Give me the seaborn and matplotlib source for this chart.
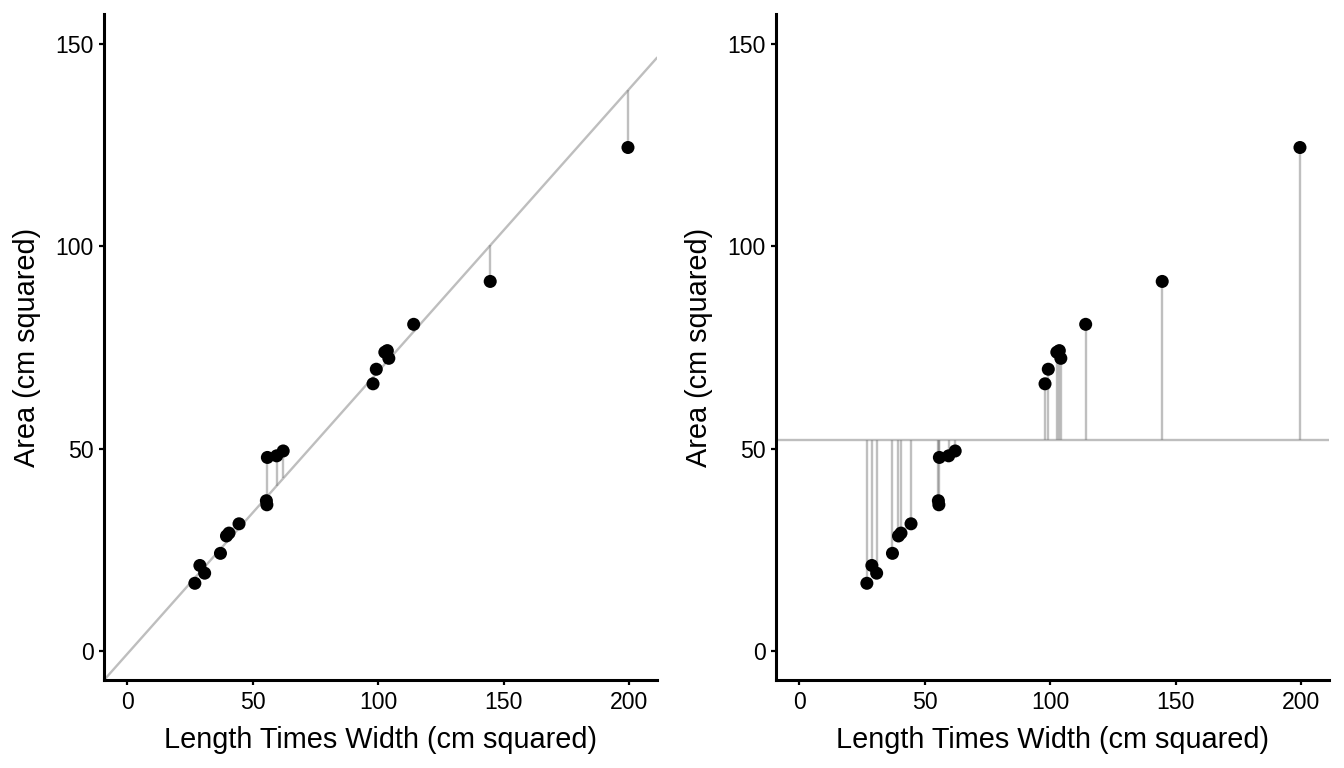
import numpy as np
import pandas as pd
import seaborn as sns
import matplotlib
matplotlib.use("Agg")
import matplotlib.pyplot as plt

# %% Data

# Length times width (cm squared)
lw = [27.0, 29.0, 30.9, 37.2, 39.6, 40.6, 44.6, 55.5, 55.7, 55.9,
      59.6, 62.2, 98.0, 99.3, 102.7, 103.7, 104.3, 114.2, 144.7, 199.6]
# Area (cm squared)
area = [16.7, 21.1, 19.2, 24.1, 28.4, 29.1, 31.4, 37.1, 36.1, 47.8,
        48.2, 49.4, 66.0, 69.6, 73.8, 74.2, 72.3, 80.7, 91.3, 124.4]

# Model line shown in the left panel
fit_slope = 0.698
fit_intercept = -0.8

x_ticks = [0, 50, 100, 150, 200]
y_ticks = [0, 50, 100, 150]

df = pd.DataFrame({'lw': lw, 'area': area})
df['fitted'] = fit_intercept + fit_slope * df['lw']
area_mean = df['area'].mean()

# %% Plot

sns.set_style("ticks")
plt.rcParams['font.family'] = ['Liberation Sans', 'DejaVu Sans']

fig = plt.figure(figsize=(13.44, 7.68), dpi=100)
ax_left = fig.add_axes([0.0774, 0.1146, 0.4115, 0.8672])
ax_right = fig.add_axes([0.5774, 0.1146, 0.4115, 0.8672])

line_col = '#bebebe'
stem_col = (0.5, 0.5, 0.5, 0.5)

# Left: residuals from the model line
ax_left.axline((0, fit_intercept), slope=fit_slope, color=line_col, linewidth=1.7, zorder=1)
ax_left.vlines(df['lw'], df['area'], df['fitted'], color=stem_col, linewidth=1.7, zorder=2)
sns.scatterplot(x='lw', y='area', data=df, color='black', s=88, edgecolor='none', ax=ax_left, zorder=3)

# Right: residuals from the mean
ax_right.axhline(area_mean, color=line_col, linewidth=1.7, zorder=1)
ax_right.vlines(df['lw'], df['area'], area_mean, color=stem_col, linewidth=1.7, zorder=2)
sns.scatterplot(x='lw', y='area', data=df, color='black', s=88, edgecolor='none', ax=ax_right, zorder=3)

for ax in [ax_left, ax_right]:
    ax.set_xlim(-9.2, 211.2)
    ax.set_ylim(-7.2, 157.4)
    ax.set_xticks(x_ticks)
    ax.set_yticks(y_ticks)
    ax.set_xlabel("Length Times Width (cm squared)", fontsize=20.8, labelpad=9, color='black')
    ax.set_ylabel("Area (cm squared)", fontsize=20.8, labelpad=10, color='black')
    ax.tick_params(labelsize=16.6, length=3.6, width=1.6, pad=4, colors='black')
    for side in ['top', 'right']:
        ax.spines[side].set_visible(False)
    for side in ['left', 'bottom']:
        ax.spines[side].set_linewidth(2.2)
        ax.spines[side].set_color('black')

fig.savefig("out.png", dpi=100)
